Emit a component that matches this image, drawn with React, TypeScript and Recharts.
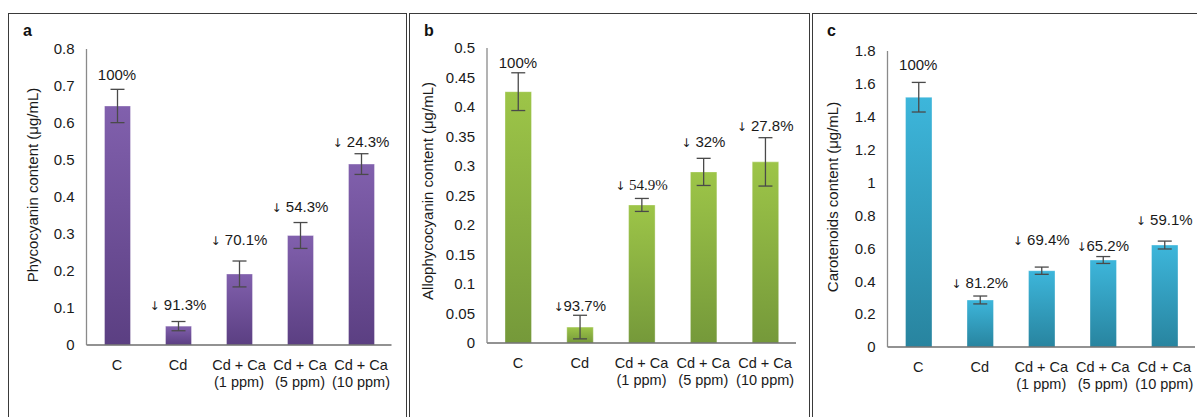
import React from 'react';
import { ComposedChart, Bar, Line, XAxis, YAxis, ErrorBar, LabelList, Label } from 'recharts';

// ---------- data ----------
const categories = ['C', 'Cd', 'Cd + Ca (1 ppm)', 'Cd + Ca (5 ppm)', 'Cd + Ca (10 ppm)'];

const phycocyanin = [0.646, 0.051, 0.192, 0.296, 0.489];
const phycocyaninErr = [0.045, 0.0125, 0.035, 0.035, 0.028];
const phycocyaninLabels = ['100%', '\u2193 91.3%', '\u2193 70.1%', '\u2193 54.3%', '\u2193 24.3%'];
const phycocyaninLabelLevel = [0.732, 0.108, 0.286, 0.373, 0.549];
const phycocyaninTicks = [0, 0.1, 0.2, 0.3, 0.4, 0.5, 0.6, 0.7, 0.8];

const allophycocyanin = [0.426, 0.027, 0.234, 0.29, 0.307];
const allophycocyaninErr = [0.032, 0.02, 0.011, 0.023, 0.041];
const allophycocyaninLabels = ['100%', '\u219393.7%', '\u2193 54.9%', '\u2193 32%', '\u2193 27.8%'];
const allophycocyaninLabelLevel = [0.476, 0.064, 0.269, 0.341, 0.368];
const allophycocyaninTicks = [0, 0.05, 0.1, 0.15, 0.2, 0.25, 0.3, 0.35, 0.4, 0.45, 0.5];

const carotenoids = [1.519, 0.286, 0.464, 0.529, 0.62];
const carotenoidsErr = [0.09, 0.024, 0.022, 0.021, 0.024];
const carotenoidsLabels = ['100%', '\u2193  81.2%', '\u2193  69.4%', '\u219365.2%', '\u2193 59.1%'];
const carotenoidsLabelLevel = [1.715, 0.389, 0.651, 0.614, 0.772];
const carotenoidsTicks = [0, 0.2, 0.4, 0.6, 0.8, 1, 1.2, 1.4, 1.6, 1.8];

const SANS = '"Liberation Sans", Arial, sans-serif';
const SERIF = '"Liberation Serif", "Times New Roman", serif';
const H = 417;
const INK = '#1a1a1a';

function buildRows(values: number[], errs: number[], labels: string[], levels: number[]) {
  return categories.map((name, i) => ({
    name,
    value: values[i],
    err: errs[i],
    label: labels[i],
    level: levels[i],
  }));
}

const CategoryTick = (props: any) => {
  const { x, y, payload } = props;
  const v: string = String(payload.value);
  const idx = v.indexOf(' (');
  const l1 = idx >= 0 ? v.slice(0, idx) : v;
  const l2 = idx >= 0 ? v.slice(idx + 1) : '';
  return (
    <g>
      <text x={x} y={y + 25} textAnchor="middle" fontSize={14.5} fontFamily={SANS} fill={INK}>
        {l1}
      </text>
      {l2 ? (
        <text x={x} y={y + 42} textAnchor="middle" fontSize={14.5} fontFamily={SANS} fill={INK}>
          {l2}
        </text>
      ) : null}
    </g>
  );
};

type PanelProps = {
  letter: string;
  boxLeft: number;
  boxWidth: number;
  chartLeft: number;
  chartWidth: number;
  plotLeft: number;
  plotRight: number;
  plotTop: number;
  plotBottom: number;
  yMax: number;
  ticks: number[];
  rows: any[];
  yTitle: string;
  titleX: number;
  titleY: number;
  top: string;
  bottom: string;
  gid: string;
  serifIdx: number[];
  barSize: number;
};

function Panel(p: PanelProps) {
  const xAxisH = 30;
  const margin = {
    top: p.plotTop,
    bottom: H - p.plotBottom - xAxisH,
    left: 0,
    right: p.chartLeft + p.chartWidth - p.plotRight,
  };
  const renderLabel = (lp: any) => {
    const { x, y, value, index } = lp;
    const serif = p.serifIdx.indexOf(index) >= 0;
    const s = String(value);
    const hasArrow = s.charAt(0) === '\u2193';
    const rest = hasArrow ? s.slice(1) : s;
    return (
      <text
        x={x}
        y={y}
        dy="0.36em"
        textAnchor="middle"
        fontSize={15}
        fontFamily={serif ? SERIF : SANS}
        fill={INK}
      >
        {hasArrow ? (
          <tspan fontFamily='"DejaVu Sans", sans-serif' fontSize={12} fill={INK} stroke="none">
            {'\u2193'}
          </tspan>
        ) : null}
        <tspan>{rest}</tspan>
      </text>
    );
  };
  return (
    <>
      <div
        style={{
          position: 'absolute',
          left: p.boxLeft,
          top: 13,
          width: p.boxWidth,
          height: 430,
          border: '1.5px solid #3a3a3a',
          boxSizing: 'border-box',
        }}
      />
      <div
        style={{
          position: 'absolute',
          left: p.boxLeft + 15,
          top: 22,
          fontFamily: SANS,
          fontWeight: 'bold',
          fontSize: 16,
          color: '#111',
        }}
      >
        {p.letter}
      </div>
      <div style={{ position: 'absolute', left: p.chartLeft, top: 0 }}>
        <ComposedChart width={p.chartWidth} height={H} data={p.rows} margin={margin}>
          <defs>
            <linearGradient id={p.gid} x1="0" y1="0" x2="0" y2="1">
              <stop offset="0%" stopColor={p.top} />
              <stop offset="100%" stopColor={p.bottom} />
            </linearGradient>
          </defs>
          <XAxis
            dataKey="name"
            height={xAxisH}
            tickLine={false}
            tickSize={0}
            tickMargin={0}
            interval={0}
            tick={<CategoryTick />}
            axisLine={{ stroke: '#6e6e6e', strokeWidth: 1.3 }}
          />
          <YAxis
            width={p.plotLeft - p.chartLeft}
            domain={[0, p.yMax]}
            ticks={p.ticks}
            interval={0}
            tickLine={false}
            tickSize={0}
            tickMargin={12}
            tickFormatter={(v: number) => String(v)}
            tick={{ fontSize: 15, fontFamily: SANS, fill: INK }}
            axisLine={{ stroke: '#8a8a8a', strokeWidth: 1.3 }}
          >
            <Label
              content={() => (
                <text
                  x={p.titleX - p.chartLeft}
                  y={p.titleY}
                  transform={`rotate(-90 ${p.titleX - p.chartLeft} ${p.titleY})`}
                  textAnchor="middle"
                  dy="0.36em"
                  fontSize={15}
                  fontFamily={SANS}
                  fill={INK}
                >
                  {p.yTitle}
                </text>
              )}
            />
          </YAxis>
          <Bar
            dataKey="value"
            fill={`url(#${p.gid})`}
            stroke="#ffffff"
            strokeOpacity={0.35}
            strokeWidth={1}
            barSize={p.barSize}
            isAnimationActive={false}
          >
            <ErrorBar dataKey="err" width={7} strokeWidth={1.3} stroke="#4a4a4a" direction="y" />
          </Bar>
          <Line
            dataKey="level"
            stroke="none"
            dot={false}
            activeDot={false}
            legendType="none"
            isAnimationActive={false}
          >
            <LabelList dataKey="label" content={renderLabel} />
          </Line>
        </ComposedChart>
      </div>
    </>
  );
}

export default function App() {
  return (
    <div
      style={{
        position: 'absolute',
        left: 0,
        top: 0,
        width: 1197,
        height: H,
        overflow: 'hidden',
        background: '#fff',
      }}
    >
      <Panel
        letter="a"
        boxLeft={8}
        boxWidth={399}
        chartLeft={8}
        chartWidth={399}
        plotLeft={86.5}
        plotRight={391.5}
        plotTop={49}
        plotBottom={345}
        yMax={0.8}
        ticks={phycocyaninTicks}
        rows={buildRows(phycocyanin, phycocyaninErr, phycocyaninLabels, phycocyaninLabelLevel)}
        yTitle="Phycocyanin content (μg/mL)"
        titleX={33}
        titleY={185}
        top="#8160ad"
        bottom="#5b3f82"
        gid="gPurple"
        serifIdx={[]}
        barSize={26}
      />
      <Panel
        letter="b"
        boxLeft={409}
        boxWidth={401}
        chartLeft={409}
        chartWidth={401}
        plotLeft={487}
        plotRight={796}
        plotTop={48}
        plotBottom={343}
        yMax={0.5}
        ticks={allophycocyaninTicks}
        rows={buildRows(allophycocyanin, allophycocyaninErr, allophycocyaninLabels, allophycocyaninLabelLevel)}
        yTitle="Allophycocyanin content (μg/mL)"
        titleX={428}
        titleY={191}
        top="#9dc548"
        bottom="#75993a"
        gid="gGreen"
        serifIdx={[2]}
        barSize={26.5}
      />
      <Panel
        letter="c"
        boxLeft={812}
        boxWidth={400}
        chartLeft={812}
        chartWidth={385}
        plotLeft={887.5}
        plotRight={1195}
        plotTop={51}
        plotBottom={347}
        yMax={1.8}
        ticks={carotenoidsTicks}
        rows={buildRows(carotenoids, carotenoidsErr, carotenoidsLabels, carotenoidsLabelLevel)}
        yTitle="Carotenoids content (μg/mL)"
        titleX={833}
        titleY={197}
        top="#3db6db"
        bottom="#28849f"
        gid="gCyan"
        serifIdx={[]}
        barSize={26.5}
      />
    </div>
  );
}
